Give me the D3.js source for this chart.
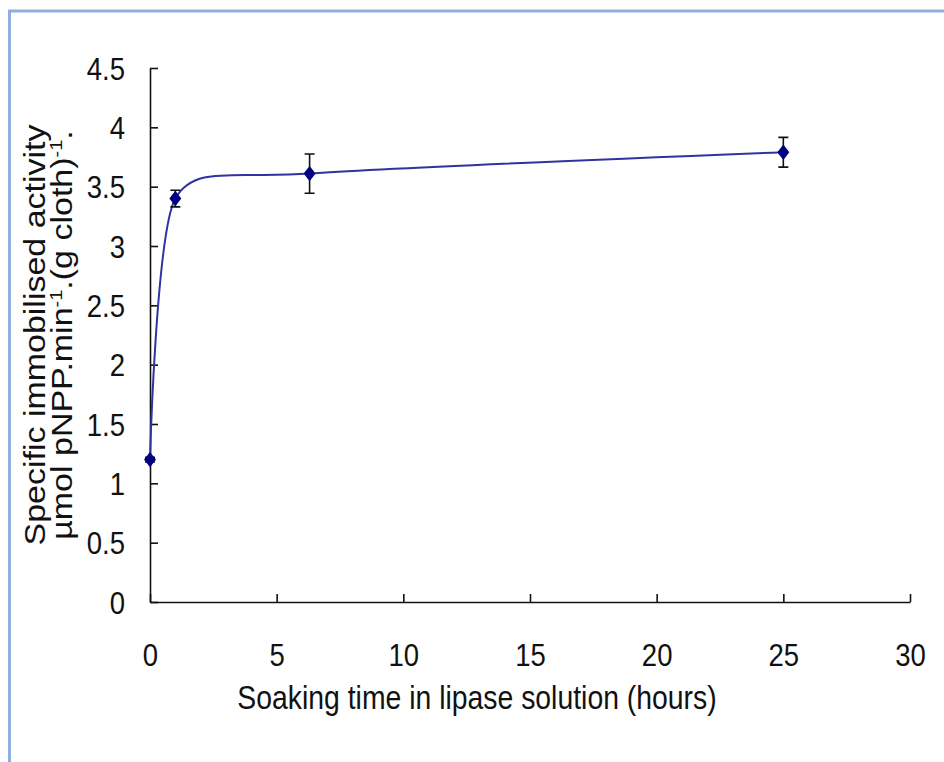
<!DOCTYPE html>
<html>
<head>
<meta charset="utf-8">
<script src="https://cdn.jsdelivr.net/npm/d3@7"></script>
<style>
  html, body { margin: 0; padding: 0; background: #fff; }
  svg { display: block; }
  text { font-family: "Liberation Sans", Arial, sans-serif; fill: #111; }
</style>
</head>
<body>
<svg id="chart" width="944" height="762"></svg>
<script>
// Soaking time (hours) vs specific immobilised activity
const hours = [0, 1, 6.3, 25];
const activity = [1.2, 3.4, 3.61, 3.79];
const errors = [0.02, 0.07, 0.165, 0.125];

const xTicks = [0, 5, 10, 15, 20, 25, 30];
const yTicks = [0, 0.5, 1, 1.5, 2, 2.5, 3, 3.5, 4, 4.5];

const xTitle = "Soaking time in lipase solution (hours)";
const yTitle1 = "Specific immobilised activity";

// fonts in the picture are squeezed horizontally
const SX = 0.86;

const svg = d3.select("#chart");

// light blue frame (only top and left edges are visible)
svg.append("path")
  .attr("d", "M 9.5 770 L 9.5 11 L 960 11")
  .attr("fill", "none")
  .attr("stroke", "#8fb0de")
  .attr("stroke-width", 3);

const x = d3.scaleLinear().domain([0, 30]).range([150, 910]);
const y = d3.scaleLinear().domain([0, 4.5]).range([602, 68]);

// axes
const xAxis = svg.append("g")
  .attr("transform", "translate(0," + y(0) + ")")
  .call(d3.axisBottom(x).tickValues(xTicks).tickSizeInner(-8).tickSizeOuter(0).tickPadding(41));

const yAxis = svg.append("g")
  .attr("transform", "translate(" + x(0) + ",0)")
  .call(d3.axisLeft(y).tickValues(yTicks).tickSizeInner(-8).tickSizeOuter(0)
    .tickFormat(d3.format("~g")));

[xAxis, yAxis].forEach(a => {
  a.select(".domain").attr("stroke", "#111").attr("stroke-width", 1.6);
  a.selectAll(".tick line").attr("stroke", "#111").attr("stroke-width", 1.6);
  a.selectAll("text").attr("font-size", 32).attr("fill", "#111")
    .attr("font-family", "'Liberation Sans', Arial, sans-serif");
});
xAxis.selectAll("text").attr("transform", `scale(${SX},1)`);
yAxis.selectAll("text")
  .attr("x", -25 / SX)
  .attr("dy", "0.35em")
  .attr("transform", `scale(${SX},1)`);

// axis titles
svg.append("text")
  .attr("transform", `translate(477,709) scale(${SX},1)`)
  .attr("text-anchor", "middle")
  .attr("font-size", 33)
  .text(xTitle);

const yMid = (y(0) + y(4.5)) / 2;
svg.append("text")
  .attr("transform", `translate(45,${yMid}) scale(${SX},1) rotate(-90)`)
  .attr("text-anchor", "middle")
  .attr("font-size", 34)
  .text(yTitle1);

const t2 = svg.append("text")
  .attr("transform", `translate(72,${yMid}) scale(${SX},1) rotate(-90)`)
  .attr("text-anchor", "middle")
  .attr("font-size", 34);
t2.append("tspan").text("\u00b5mol pNPP.min");
t2.append("tspan").attr("font-size", 20).attr("dy", -12).text("-1");
t2.append("tspan").attr("dy", 12).text(".(g cloth)");
t2.append("tspan").attr("font-size", 20).attr("dy", -12).text("-1");
t2.append("tspan").attr("dy", 12).text(".");

// data
const pts = hours.map((h, i) => ({ h, v: activity[i], e: errors[i] }));

const line = d3.line()
  .x(d => x(d.h))
  .y(d => y(d.v))
  .curve(d3.curveCardinal.tension(0.28));

svg.append("path")
  .datum(pts)
  .attr("d", line)
  .attr("fill", "none")
  .attr("stroke", "#3232a2")
  .attr("stroke-width", 2);

// error bars
const eb = svg.append("g").attr("stroke", "#111").attr("stroke-width", 1.6).attr("fill", "none");
pts.forEach(d => {
  const cx = x(d.h), y1 = y(d.v + d.e), y2 = y(d.v - d.e);
  eb.append("path").attr("d", `M${cx},${y1}V${y2}M${cx - 5},${y1}H${cx + 5}M${cx - 5},${y2}H${cx + 5}`);
});

// diamond markers
svg.append("g").selectAll("path")
  .data(pts)
  .join("path")
  .attr("transform", d => `translate(${x(d.h)},${y(d.v)}) scale(0.78,1)`)
  .attr("d", d3.symbol(d3.symbolDiamond2, 150))
  .attr("fill", "#000080");
</script>
</body>
</html>
